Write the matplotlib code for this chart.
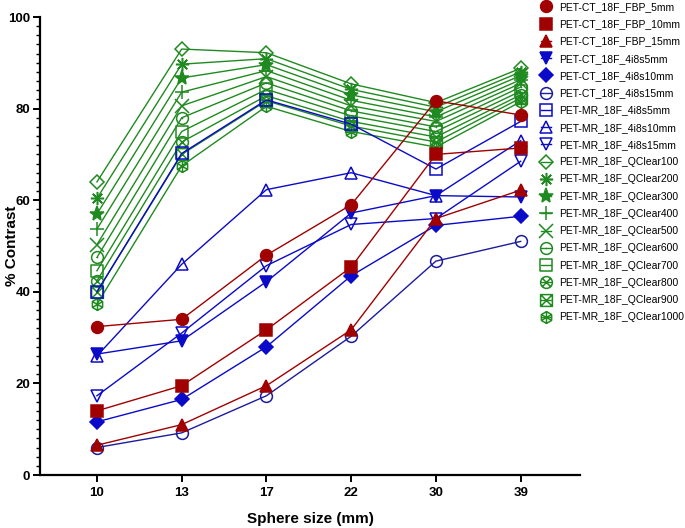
import matplotlib
matplotlib.use("Agg")
import matplotlib.pyplot as plt
from matplotlib.path import Path
from matplotlib.ticker import MultipleLocator
import numpy as np

sizes = ["10", "13", "17", "22", "30", "39"]

# PET-CT FBP
ct_fbp_5 = [32.4, 34.0, 48.0, 59.0, 81.7, 78.6]
ct_fbp_10 = [14.0, 19.5, 31.7, 45.4, 70.0, 71.4]
ct_fbp_15 = [6.5, 11.0, 19.5, 31.7, 56.0, 62.2]
# PET-CT 4i8s
ct_4i8s_5 = [26.4, 29.3, 42.2, 57.2, 61.0, 60.7]
ct_4i8s_10 = [11.6, 16.5, 28.0, 43.5, 54.5, 56.5]
ct_4i8s_15 = [6.0, 9.2, 17.3, 30.3, 46.7, 51.0]
# PET-MR 4i8s
mr_4i8s_5 = [40.0, 70.2, 81.9, 76.6, 66.8, 77.2]
mr_4i8s_10 = [26.0, 46.0, 62.3, 66.0, 61.0, 73.0]
mr_4i8s_15 = [17.3, 31.0, 45.7, 54.7, 56.0, 68.5]
# PET-MR QClear
qc_100 = [64.0, 93.0, 92.2, 85.4, 81.3, 88.8]
qc_200 = [60.4, 89.7, 90.9, 84.2, 80.3, 88.0]
qc_300 = [57.0, 86.7, 89.6, 83.0, 79.3, 87.2]
qc_400 = [53.7, 83.6, 88.3, 81.8, 78.2, 86.3]
qc_500 = [50.3, 80.6, 87.0, 80.6, 77.2, 85.5]
qc_600 = [47.5, 78.0, 85.6, 79.5, 76.0, 84.7]
qc_700 = [44.6, 75.0, 84.2, 78.4, 75.0, 83.8]
qc_800 = [42.4, 72.7, 82.8, 77.2, 73.8, 83.0]
qc_900 = [40.0, 70.0, 81.7, 76.2, 72.7, 82.3]
qc_1000 = [37.3, 67.5, 80.5, 75.0, 71.6, 81.5]

red = "#a00000"
blue = "#0a0ac8"
navy = "#1c1c9c"
green = "#1f8a1f"

def circ_with(lines):
    paths = [Path.unit_circle()]
    for (a, b) in lines:
        paths.append(Path([a, b], [Path.MOVETO, Path.LINETO]))
    return Path.make_compound_path(*paths)

def poly_with(verts, lines):
    v = list(verts) + [verts[0]]
    codes = [Path.MOVETO] + [Path.LINETO] * (len(verts) - 1) + [Path.CLOSEPOLY]
    paths = [Path(v, codes)]
    for (a, b) in lines:
        paths.append(Path([a, b], [Path.MOVETO, Path.LINETO]))
    return Path.make_compound_path(*paths)

d = 0.707
sq = [(-1, -1), (1, -1), (1, 1), (-1, 1)]
dot = 0.08
m_circ_dot = circ_with([((-dot, 0), (dot, 0)), ((0, -dot), (0, dot))])
m_sq_dot = poly_with(sq, [((-dot, 0), (dot, 0)), ((0, -dot), (0, dot))])
m_circ_x = circ_with([((-d, -d), (d, d)), ((-d, d), (d, -d))])
m_sq_x = poly_with(sq, [((-1, -1), (1, 1)), ((-1, 1), (1, -1))])
hexv = [(np.cos(np.pi / 2 + k * np.pi / 3), np.sin(np.pi / 2 + k * np.pi / 3)) for k in range(6)]
m_hex = poly_with(hexv, [(hexv[0], hexv[3]), (hexv[1], hexv[4]), (hexv[2], hexv[5])])

# (label, values, colour, marker, filled)
series = [
    ("PET-CT_18F_FBP_5mm", ct_fbp_5, red, "o", True),
    ("PET-CT_18F_FBP_10mm", ct_fbp_10, red, "s", True),
    ("PET-CT_18F_FBP_15mm", ct_fbp_15, red, "^", True),
    ("PET-CT_18F_4i8s5mm", ct_4i8s_5, blue, "v", True),
    ("PET-CT_18F_4i8s10mm", ct_4i8s_10, blue, "D", True),
    ("PET-CT_18F_4i8s15mm", ct_4i8s_15, navy, "o", False),
    ("PET-MR_18F_4i8s5mm", mr_4i8s_5, blue, "s", False),
    ("PET-MR_18F_4i8s10mm", mr_4i8s_10, blue, "^", False),
    ("PET-MR_18F_4i8s15mm", mr_4i8s_15, blue, "v", False),
    ("PET-MR_18F_QClear100", qc_100, green, "D", False),
    ("PET-MR_18F_QClear200", qc_200, green, (8, 2, 0), False),
    ("PET-MR_18F_QClear300", qc_300, green, "*", True),
    ("PET-MR_18F_QClear400", qc_400, green, "+", False),
    ("PET-MR_18F_QClear500", qc_500, green, "x", False),
    ("PET-MR_18F_QClear600", qc_600, green, m_circ_dot, False),
    ("PET-MR_18F_QClear700", qc_700, green, m_sq_dot, False),
    ("PET-MR_18F_QClear800", qc_800, green, m_circ_x, False),
    ("PET-MR_18F_QClear900", qc_900, green, m_sq_x, False),
    ("PET-MR_18F_QClear1000", qc_1000, green, m_hex, False),
]

plt.rcParams["font.family"] = ["Liberation Sans", "DejaVu Sans"]

fig = plt.figure(figsize=(6.85, 5.28), dpi=100)
ax = fig.add_axes([40 / 685, 53 / 528, 540 / 685, 458 / 528])

x = np.arange(len(sizes))
handles = {}
# draw green first, then blue, then red on top
for idx in list(range(9, 19)) + list(range(3, 9)) + list(range(0, 3)):
    lab, vals, col, mk, filled = series[idx]
    ms = 8.5
    if mk == "D":
        ms = 7
    if mk == "*":
        ms = 11
    if mk in ("+", "x") or isinstance(mk, tuple):
        ms = 9.5
    line, = ax.plot(x, vals, color=col, lw=1.0, marker=mk, markersize=ms,
                    markerfacecolor=col if filled else "none",
                    markeredgecolor=col, markeredgewidth=1.1, label=lab)
    handles[idx] = line

ax.set_xlim(-0.672, 5.70)
ax.set_ylim(0, 100)
ax.set_xticks(x)
ax.set_xticklabels(sizes)
ax.yaxis.set_major_locator(MultipleLocator(20))
ax.yaxis.set_minor_locator(MultipleLocator(2))
for s in ("top", "right"):
    ax.spines[s].set_visible(False)
for s in ("left", "bottom"):
    ax.spines[s].set_linewidth(1.6)
ax.tick_params(axis="both", which="major", length=5, width=1.4, labelsize=9.5, pad=2)
ax.tick_params(axis="x", which="major", pad=4)
ax.tick_params(axis="y", which="minor", length=3, width=1.0)
for t in ax.get_xticklabels() + ax.get_yticklabels():
    t.set_fontweight("bold")
ax.set_xlabel("Sphere size (mm)", fontsize=11, fontweight="bold", labelpad=9)
ax.set_ylabel("% Contrast", fontsize=11, fontweight="bold")
ax.yaxis.set_label_coords(-21 / 540, 0.5)

fig.legend([handles[i] for i in range(19)], [s[0] for s in series],
           loc="upper left", bbox_to_anchor=(541 / 685, 1 - 2 / 528),
           frameon=False, fontsize=7.45, handlelength=1.0, handletextpad=0.75,
           labelspacing=0.7, borderpad=0, borderaxespad=0)

fig.savefig("out.png", dpi=100)
